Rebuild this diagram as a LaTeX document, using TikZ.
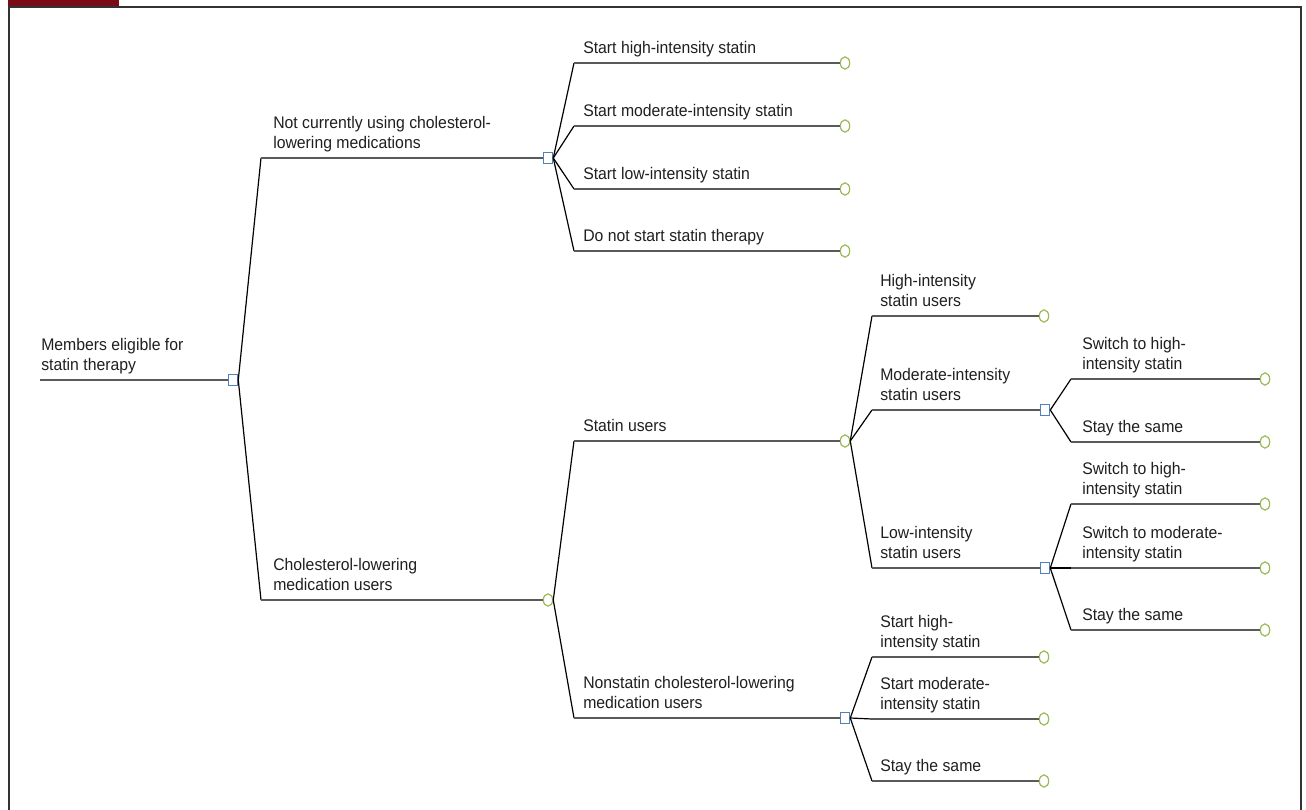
\documentclass[tikz,border=0pt]{standalone}
\usepackage{fontspec}
\setmainfont[FakeStretch=0.94]{Liberation Sans}
\usetikzlibrary{shapes.geometric}
\definecolor{barred}{HTML}{7A0C18}
\definecolor{sqblue}{HTML}{4F81BD}
\definecolor{cirgreen}{HTML}{9BBB59}
\definecolor{hgray}{HTML}{5A5A5A}
\definecolor{framegray}{HTML}{333333}
\begin{document}
\begin{tikzpicture}[x=0.75pt,y=-0.75pt,
  sq/.style={rectangle,draw=sqblue,fill=white,line width=0.9pt,minimum width=7pt,minimum height=8.5pt,inner sep=0pt},
  cir/.style={ellipse,draw=cirgreen,fill=white,line width=0.9pt,minimum width=7pt,minimum height=9.2pt,inner sep=0pt},
  hl/.style={draw=hgray,line width=1.05pt},
  fl/.style={draw=black,line width=0.9pt},
  lbl/.style={anchor=south west,inner sep=0pt,text depth=0pt,align=left,font=\fontsize{12.6pt}{15pt}\selectfont,text=black!88}]
\useasboundingbox (0,0) rectangle (1306,810);
% frame and title bar
\fill[barred] (8,0) rectangle (119,6);
\draw[framegray,line width=1.5pt] (8.5,810) -- (8.5,7) -- (1300.5,7) -- (1300.5,810);

% root
\coordinate (r0) at (40,380);
\node[sq] (root) at (233,380) {};
\draw[hl] (r0) -- (root.west);
\node[lbl] (rootlbl) at (41,371) {Members eligible for\\statin therapy};

% level 1
\coordinate (eA) at (261,158);
\node[sq] (A) at (548,158) {};
\draw[fl] (root.east) -- (eA);
\draw[hl] (eA) -- (A.west);
\node[lbl] (Albl) at (273,149) {Not currently using cholesterol-\\lowering medications};

\coordinate (eB) at (261,600);
\node[cir] (B) at (548,600) {};
\draw[fl] (root.east) -- (eB);
\draw[hl] (eB) -- (B.west);
\node[lbl] (Blbl) at (273,591) {Cholesterol-lowering\\medication users};

% children of A
\coordinate (eA1) at (574,63);
\node[cir] (A1) at (845,63) {};
\draw[fl] (A.east) -- (eA1);
\draw[hl] (eA1) -- (A1.west);
\node[lbl] (A1lbl) at (583,54) {Start high-intensity statin};

\coordinate (eA2) at (574,126);
\node[cir] (A2) at (845,126) {};
\draw[fl] (A.east) -- (eA2);
\draw[hl] (eA2) -- (A2.west);
\node[lbl] (A2lbl) at (583,117) {Start moderate-intensity statin};

\coordinate (eA3) at (574,189);
\node[cir] (A3) at (845,189) {};
\draw[fl] (A.east) -- (eA3);
\draw[hl] (eA3) -- (A3.west);
\node[lbl] (A3lbl) at (583,180) {Start low-intensity statin};

\coordinate (eA4) at (574,251);
\node[cir] (A4) at (845,251) {};
\draw[fl] (A.east) -- (eA4);
\draw[hl] (eA4) -- (A4.west);
\node[lbl] (A4lbl) at (583,242) {Do not start statin therapy};

% children of B
\coordinate (eB1) at (574,441);
\node[cir] (B1) at (845,441) {};
\draw[fl] (B.east) -- (eB1);
\draw[hl] (eB1) -- (B1.west);
\node[lbl] (B1lbl) at (583,432) {Statin users};

\coordinate (eB2) at (574,718);
\node[sq] (B2) at (845,718) {};
\draw[fl] (B.east) -- (eB2);
\draw[hl] (eB2) -- (B2.west);
\node[lbl] (B2lbl) at (583,709) {Nonstatin cholesterol-lowering\\medication users};

% children of B1
\coordinate (eB11) at (872,316);
\node[cir] (B11) at (1044,316) {};
\draw[fl] (B1.east) -- (eB11);
\draw[hl] (eB11) -- (B11.west);
\node[lbl] (B11lbl) at (880,307) {High-intensity\\statin users};

\coordinate (eB12) at (872,410);
\node[sq] (B12) at (1045,410) {};
\draw[fl] (B1.east) -- (eB12);
\draw[hl] (eB12) -- (B12.west);
\node[lbl] (B12lbl) at (880,401) {Moderate-intensity\\statin users};

\coordinate (eB13) at (872,568);
\node[sq] (B13) at (1045,568) {};
\draw[fl] (B1.east) -- (eB13);
\draw[hl] (eB13) -- (B13.west);
\node[lbl] (B13lbl) at (880,559) {Low-intensity\\statin users};

% children of B12
\coordinate (eB121) at (1071,379);
\node[cir] (B121) at (1265,379) {};
\draw[fl] (B12.east) -- (eB121);
\draw[hl] (eB121) -- (B121.west);
\node[lbl] (B121lbl) at (1082,370) {Switch to high-\\intensity statin};

\coordinate (eB122) at (1071,442);
\node[cir] (B122) at (1265,442) {};
\draw[fl] (B12.east) -- (eB122);
\draw[hl] (eB122) -- (B122.west);
\node[lbl] (B122lbl) at (1082,433) {Stay the same};

% children of B13
\coordinate (eB131) at (1071,504);
\node[cir] (B131) at (1265,504) {};
\draw[fl] (B13.east) -- (eB131);
\draw[hl] (eB131) -- (B131.west);
\node[lbl] (B131lbl) at (1082,495) {Switch to high-\\intensity statin};

\coordinate (eB132) at (1071,568);
\node[cir] (B132) at (1265,568) {};
\draw[fl] (B13.east) -- (eB132);
\draw[hl] (eB132) -- (B132.west);
\node[lbl] (B132lbl) at (1082,559) {Switch to moderate-\\intensity statin};

\coordinate (eB133) at (1071,630);
\node[cir] (B133) at (1265,630) {};
\draw[fl] (B13.east) -- (eB133);
\draw[hl] (eB133) -- (B133.west);
\node[lbl] (B133lbl) at (1082,621) {Stay the same};

% children of B2
\coordinate (eB21) at (872,657);
\node[cir] (B21) at (1044,657) {};
\draw[fl] (B2.east) -- (eB21);
\draw[hl] (eB21) -- (B21.west);
\node[lbl] (B21lbl) at (880,648) {Start high-\\intensity statin};

\coordinate (eB22) at (872,719);
\node[cir] (B22) at (1044,719) {};
\draw[fl] (B2.east) -- (eB22);
\draw[hl] (eB22) -- (B22.west);
\node[lbl] (B22lbl) at (880,710) {Start moderate-\\intensity statin};

\coordinate (eB23) at (872,781);
\node[cir] (B23) at (1044,781) {};
\draw[fl] (B2.east) -- (eB23);
\draw[hl] (eB23) -- (B23.west);
\node[lbl] (B23lbl) at (880,772) {Stay the same};
\end{tikzpicture}
\end{document}
